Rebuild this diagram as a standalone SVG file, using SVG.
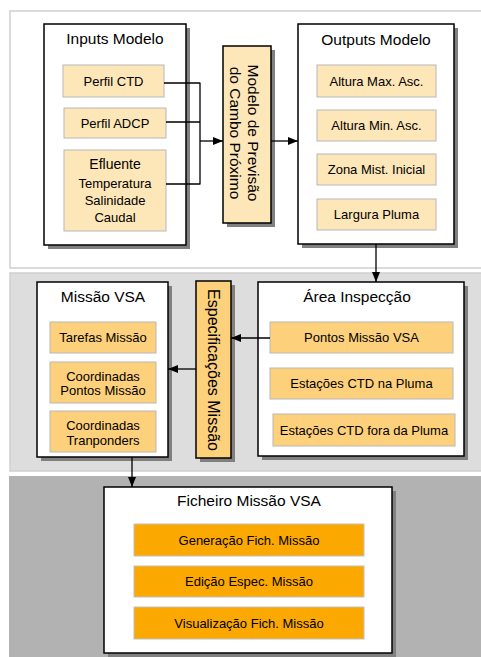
<svg xmlns="http://www.w3.org/2000/svg" width="481" height="657" viewBox="0 0 481 657">
<defs>
<style>
text{font-family:"Liberation Sans",Arial,sans-serif;fill:#000;text-anchor:middle}
.box{fill:#fff;stroke:#000;stroke-width:1.5}
.sh{fill:#808080}
.i1{fill:#fde6b8;stroke:#b8b8b8;stroke-width:1}
.i2{fill:#fdd07b;stroke:#b8b8b8;stroke-width:1}
.i3{fill:#fba800;stroke:#c0c0c0;stroke-width:1}
.t{font-size:15.5px}
.s{font-size:13px}
.c{fill:none;stroke:#000;stroke-width:1.3}
</style>
<marker id="ah" viewBox="0 0 10 8" refX="10" refY="4" markerWidth="10" markerHeight="8" markerUnits="userSpaceOnUse" orient="auto">
<path d="M0,0 L10,4 L0,8 Z" fill="#000"/>
</marker>
</defs>
<rect x="0" y="0" width="481" height="657" fill="#fff"/>
<g id="panels">
<rect x="10" y="11" width="475" height="257" fill="#fff" stroke="#cfcfcf" stroke-width="1.5"/>
<rect x="10" y="273" width="475" height="198" fill="#dddddd" stroke="#cfcfcf" stroke-width="1.5"/>
<rect x="9" y="476" width="476" height="185" fill="#b2b2b2"/>
</g>
<g id="inputs">
<rect class="sh" x="48" y="28" width="142" height="221"/>
<rect class="box" x="44" y="24" width="142" height="221"/>
<text class="t" x="115" y="44">Inputs Modelo</text>
<rect class="i1" x="63" y="65" width="101" height="32"/>
<text class="s" x="113.5" y="85.5">Perfil CTD</text>
<rect class="i1" x="64" y="108" width="102" height="30"/>
<text class="s" x="115" y="127.5">Perfil ADCP</text>
<rect class="i1" x="64" y="150" width="102" height="81"/>
<text x="115" y="169" style="font-size:14px">Efluente</text>
<text class="s" x="115" y="188">Temperatura</text>
<text class="s" x="115" y="205">Salinidade</text>
<text class="s" x="115" y="222">Caudal</text>
</g>
<g id="modelo">
<rect class="sh" x="227" y="50" width="48" height="177"/>
<rect x="223" y="46" width="48" height="177" fill="#fde6b8" stroke="#000" stroke-width="1.5"/>
<g transform="translate(247,133) rotate(90)">
<text x="0" y="-0.8" style="font-size:15.5px">Modelo de Previsão</text>
<text x="0" y="17.2" style="font-size:15.5px">do Cambo Próximo</text>
</g>
</g>
<g id="outputs">
<rect class="sh" x="302" y="28" width="156" height="220"/>
<rect class="box" x="298" y="24" width="156" height="220"/>
<text class="t" x="376" y="45">Outputs Modelo</text>
<rect class="i1" x="317" y="65" width="119" height="32"/>
<text class="s" x="376.5" y="85.5">Altura Max. Asc.</text>
<rect class="i1" x="317" y="110" width="119" height="31"/>
<text class="s" x="376.5" y="130">Altura Min. Asc.</text>
<rect class="i1" x="317" y="154" width="119" height="31"/>
<text class="s" x="376.5" y="174">Zona Mist. Inicial</text>
<rect class="i1" x="317" y="199" width="119" height="31"/>
<text class="s" x="376.5" y="219">Largura Pluma</text>
</g>
<g id="missao">
<rect class="sh" x="41" y="286" width="131" height="175"/>
<rect class="box" x="37" y="282" width="131" height="175"/>
<text class="t" x="103" y="302">Missão VSA</text>
<rect class="i2" x="50" y="322" width="106" height="31"/>
<text class="s" x="103" y="342">Tarefas Missão</text>
<rect class="i2" x="50" y="362" width="106" height="41"/>
<text class="s" x="103" y="381">Coordinadas</text>
<text class="s" x="103" y="395">Pontos Missão</text>
<rect class="i2" x="50" y="411" width="106" height="41"/>
<text class="s" x="103" y="430">Coordinadas</text>
<text class="s" x="103" y="444.5">Tranponders</text>
</g>
<g id="especificacoes">
<rect class="sh" x="200" y="285" width="35" height="177"/>
<rect x="196" y="281" width="35" height="177" fill="#fdd07b" stroke="#000" stroke-width="1.5"/>
<text transform="translate(213.5,370) rotate(90)" x="0" y="5.6" style="font-size:16px">Especificações Missão</text>
</g>
<g id="area">
<rect class="sh" x="262" y="286" width="206" height="174"/>
<rect class="box" x="258" y="282" width="206" height="174"/>
<text class="t" x="357" y="302">Área Inspecção</text>
<rect class="i2" x="270" y="322" width="183" height="31"/>
<text class="s" x="361.5" y="342">Pontos Missão VSA</text>
<rect class="i2" x="270" y="368" width="183" height="31"/>
<text class="s" x="361.5" y="388">Estações CTD na Pluma</text>
<rect class="i2" x="273" y="414" width="182" height="32"/>
<text class="s" x="364" y="434.5">Estações CTD fora da Pluma</text>
</g>
<g id="ficheiro">
<rect class="sh" x="108" y="491" width="288" height="166"/>
<rect class="box" x="104" y="487" width="288" height="166"/>
<text class="t" x="249" y="506">Ficheiro Missão VSA</text>
<rect class="i3" x="134" y="524" width="230" height="32"/>
<text class="s" x="249" y="544.5">Generação Fich. Missão</text>
<rect class="i3" x="134" y="566" width="230" height="31"/>
<text class="s" x="249" y="586">Edição Espec. Missão</text>
<rect class="i3" x="134" y="607" width="230" height="32"/>
<text class="s" x="249" y="627.5">Visualização Fich. Missão</text>
</g>
<g id="connectors">
<path class="c" d="M164,83 H200 M166,122 H200 M166,184 H200 M200,82.4 V184.6"/>
<path class="c" d="M200,141 H223" marker-end="url(#ah)"/>
<path class="c" d="M271,141 H298" marker-end="url(#ah)"/>
<path class="c" d="M376,244 V282" marker-end="url(#ah)"/>
<path class="c" d="M270,338 H231" marker-end="url(#ah)"/>
<path class="c" d="M196,369 H168" marker-end="url(#ah)"/>
<path class="c" d="M132,457 V487" marker-end="url(#ah)"/>
</g>
</svg>
